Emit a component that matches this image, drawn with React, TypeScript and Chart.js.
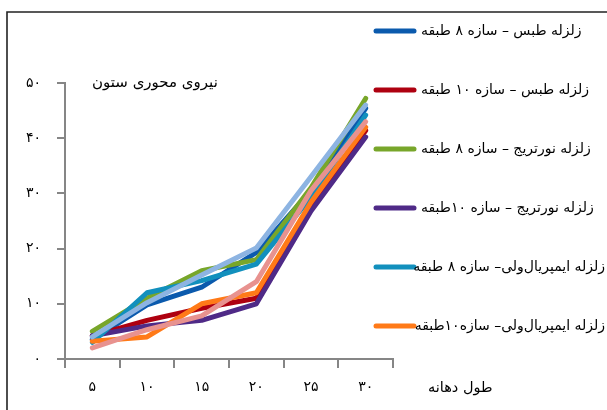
import { useEffect, useRef } from 'react';
import { Chart, registerables } from 'chart.js';

Chart.register(...registerables);

const FONT = '"DejaVu Sans", sans-serif';

// ---- data ----
const categories = ['۵', '۱۰', '۱۵', '۲۰', '۲۵', '۳۰'];
const yTickLabels = ['۰', '۱۰', '۲۰', '۳۰', '۴۰', '۵۰'];
const yTitle = 'نیروی محوری ستون';
const xTitle = 'طول دهانه';

const seriesNames = [
  'زلزله طبس – سازه ۸ طبقه',
  'زلزله طبس – سازه ۱۰ طبقه',
  'زلزله نورتریج – سازه ۸ طبقه',
  'زلزله نورتریج – سازه ۱۰طبقه',
  'زلزله ایمپریال‌ولی– سازه ۸ طبقه',
  'زلزله ایمپریال‌ولی– سازه۱۰طبقه',
  'سری ۷',
  'سری ۸',
];

const tabas8 = [3.5, 9.8, 13, 19.3, 30.5, 45.4];
const tabas10 = [4.2, 7, 9.2, 11, 27.5, 41.4];
const northridge8 = [5, 11, 16, 18, 31, 47.2];
const northridge10 = [4.2, 6, 7, 10, 26.8, 40.2];
const imperial8 = [3, 12, 14.2, 17.2, 29.3, 44.2];
const imperial10 = [3.2, 4, 10, 12, 28.4, 42];
const series7 = [4, 10.2, 15.2, 20.1, 33, 46];
const series8 = [2, 5.3, 7.8, 14, 30.5, 43];

const seriesValues = [tabas8, tabas10, northridge8, northridge10, imperial8, imperial10, series7, series8];
const legendCount = 6;

// ---- styles ----
const seriesColors = ['#0b5aad', '#ae0010', '#78a62a', '#4f2a87', '#1290bd', '#ff7a18', '#8db4e2', '#e8928f'];
const axisColor = '#868686';

const decorPlugin = {
  id: 'decor',
  beforeDraw(chart: any) {
    const ctx = chart.ctx;
    ctx.save();
    ctx.strokeStyle = '#222';
    ctx.lineWidth = 1.6;
    ctx.beginPath();
    ctx.moveTo(7, 410);
    ctx.lineTo(7, 12);
    ctx.lineTo(607, 12);
    ctx.stroke();
    ctx.restore();
  },
  afterDraw(chart: any) {
    const ctx = chart.ctx;
    const area = chart.chartArea;
    ctx.save();
    ctx.direction = 'rtl';
    ctx.fillStyle = '#000';
    ctx.textBaseline = 'middle';
    ctx.textAlign = 'left';
    ctx.font = `15px ${FONT}`;
    ctx.fillText(yTitle, area.left + 27, area.top);
    ctx.font = `14.5px ${FONT}`;
    ctx.fillText(xTitle, area.right + 35, area.bottom + 29);

    // legend
    ctx.font = `14px ${FONT}`;
    for (let i = 0; i < legendCount; i++) {
      const ds = chart.data.datasets[i];
      const y = 31 + i * 59;
      ctx.strokeStyle = ds.borderColor;
      ctx.lineWidth = 5;
      ctx.lineCap = 'round';
      ctx.beginPath();
      ctx.moveTo(area.right - 17, y);
      ctx.lineTo(area.right + 21, y);
      ctx.stroke();
      const w = ctx.measureText(ds.label).width;
      const x = Math.min(area.right + 28, 605 - w);
      ctx.fillText(ds.label, x, y);
    }
    ctx.restore();
  },
};

export default function App() {
  const ref = useRef<HTMLCanvasElement>(null);

  useEffect(() => {
    if (!ref.current) return;
    const datasets = seriesValues.map((vals, i) => ({
      label: seriesNames[i],
      data: vals,
      borderColor: seriesColors[i],
      backgroundColor: seriesColors[i],
      borderWidth: 5,
      pointRadius: 0,
      pointHoverRadius: 0,
      tension: 0,
      fill: false,
      borderCapStyle: 'round' as const,
      borderJoinStyle: 'round' as const,
      order: seriesValues.length - 1 - i,
    }));
    const chart = new Chart(ref.current, {
      type: 'line',
      data: { labels: categories, datasets },
      plugins: [decorPlugin],
      options: {
        animation: false,
        responsive: false,
        layout: { padding: { left: 0, top: 83, right: 214, bottom: 0 } },
        plugins: {
          legend: { display: false },
          title: { display: false },
          tooltip: { enabled: false },
        },
        scales: {
          x: {
            type: 'category',
            offset: true,
            grid: {
              display: true,
              offset: true,
              drawOnChartArea: false,
              drawTicks: true,
              tickLength: 9,
              color: axisColor,
              lineWidth: 2,
            },
            border: { display: true, color: axisColor, width: 2 },
            ticks: {
              color: '#000',
              font: { family: FONT, size: 14 },
              padding: 11,
              maxRotation: 0,
            },
            afterFit(scale: any) {
              scale.height = 51;
            },
          },
          y: {
            min: 0,
            max: 50,
            grid: {
              display: true,
              drawOnChartArea: false,
              drawTicks: true,
              tickLength: 8,
              color: axisColor,
              lineWidth: 2,
            },
            border: { display: true, color: axisColor, width: 2 },
            ticks: {
              stepSize: 10,
              color: '#000',
              font: { family: FONT, size: 14 },
              padding: 16,
              callback: (v: any) => yTickLabels[Math.round(Number(v) / 10)],
            },
            afterFit(scale: any) {
              scale.width = 65;
            },
          },
        },
      },
    });
    return () => chart.destroy();
  }, []);

  return (
    <div style={{ position: 'fixed', left: 0, top: 0, width: 607, height: 410, background: '#fff' }}>
      <canvas ref={ref} width={607} height={410} style={{ display: 'block' }} />
    </div>
  );
}
